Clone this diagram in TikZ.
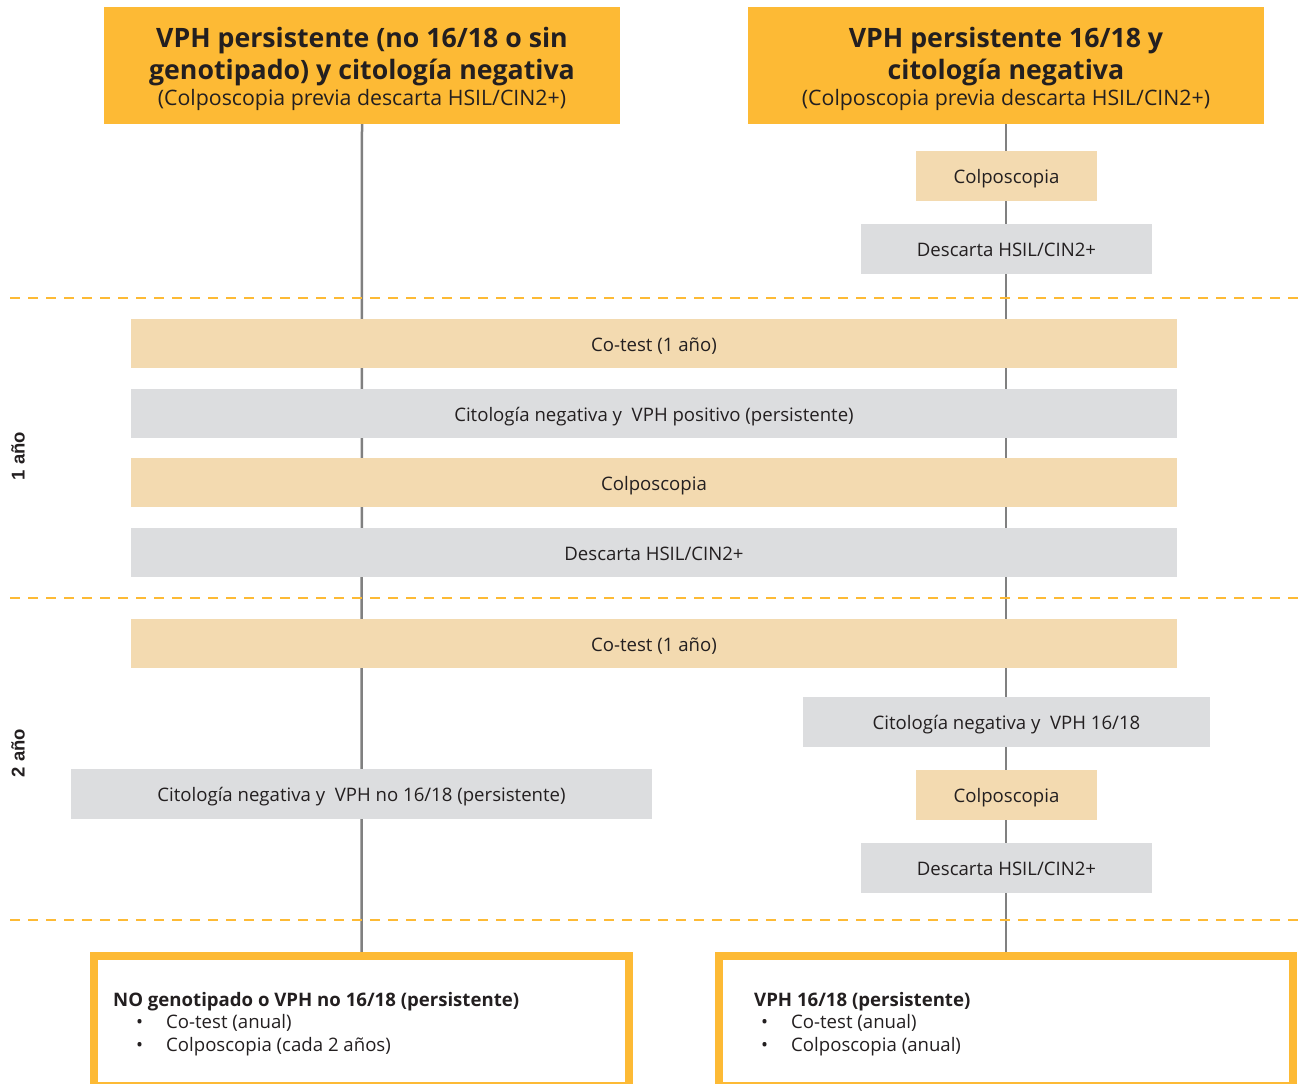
\documentclass[tikz,border=0pt]{standalone}
\usepackage{fontspec}
\setmainfont{Open Sans}
\newfontfamily\sidefont{Liberation Sans}
\usetikzlibrary{backgrounds}
\definecolor{headorange}{HTML}{FDBA35}
\definecolor{stepfill}{HTML}{F3DAB0}
\definecolor{checkfill}{HTML}{DCDDDF}
\definecolor{linegray}{HTML}{808080}
\definecolor{ink}{HTML}{231F20}
\tikzset{
  headbox/.style={fill=headorange, inner sep=0pt, minimum width=516pt, minimum height=117pt},
  headtitle/.style={text=ink, align=center, font=\fontsize{26.7}{32}\selectfont\bfseries},
  headsub/.style={text=ink, font=\fontsize{21.3}{24}\selectfont},
  bodybox/.style={inner sep=0pt, minimum height=49pt, text=ink, text height=20pt, text depth=4.5pt,
                  font=\fontsize{18.6}{22}\selectfont},
  tanbox/.style={bodybox, fill=stepfill},
  graybox/.style={bodybox, fill=checkfill},
  yearline/.style={draw=headorange, line width=2.5pt, dash pattern=on 10pt off 8pt},
  flow/.style={draw=linegray, line width=2.5pt},
  resultbox/.style={draw=headorange, line width=8pt, fill=white, inner sep=0pt},
  resulttext/.style={text=ink, anchor=west, inner sep=0pt, font=\fontsize{18.6}{22}\selectfont},
  sidelabel/.style={text=ink, rotate=90, font=\sidefont\bfseries\fontsize{18.5}{22}\selectfont}
}
\begin{document}
\begin{tikzpicture}[x=1pt,y=-1pt]
\useasboundingbox (0,0) rectangle (1301,1084);
\clip (0,0) rectangle (1301,1084);

% column headers
\node[headbox] (ltop) at (362,65.5) {};
\node[headtitle] (ltopt) at (362,57) {VPH persistente (no 16/18 o sin\\genotipado) y citología negativa};
\node[headsub] (ltops) at (362,100) {(Colposcopia previa descarta HSIL/CIN2+)};
\node[headbox] (rtop) at (1006,65.5) {};
\node[headtitle] (rtopt) at (1006,57) {VPH persistente 16/18 y\\citología negativa};
\node[headsub] (rtops) at (1006,100) {(Colposcopia previa descarta HSIL/CIN2+)};

% right column, before the first year
\node[tanbox, minimum width=181pt, minimum height=50pt] (rcol0) at (1006.5,176) {Colposcopia};
\node[graybox, minimum width=291pt, minimum height=50pt] (rdes0) at (1006.5,249) {Descarta HSIL/CIN2+};

% year separators
\coordinate (s1a) at (10,298);  \coordinate (s1b) at (1301,298);
\coordinate (s2a) at (10,598);  \coordinate (s2b) at (1301,598);
\coordinate (s3a) at (10,920);  \coordinate (s3b) at (1301,920);

% first year, shared steps
\node[tanbox, minimum width=1046pt] (cot1) at (654,343.5) {Co-test (1 año)};
\node[graybox, minimum width=1046pt] (cit1) at (654,413.5) {Citología negativa y\ \ VPH positivo (persistente)};
\node[tanbox, minimum width=1046pt] (col1) at (654,482.5) {Colposcopia};
\node[graybox, minimum width=1046pt] (des1) at (654,552.5) {Descarta HSIL/CIN2+};

% second year
\node[tanbox, minimum width=1046pt] (cot2) at (654,643.5) {Co-test (1 año)};
\node[graybox, minimum width=407pt, minimum height=50pt] (rcit2) at (1006.5,722) {Citología negativa y\ \ VPH 16/18};
\node[tanbox, minimum width=181pt, minimum height=50pt] (rcol2) at (1006.5,795) {Colposcopia};
\node[graybox, minimum width=291pt, minimum height=50pt] (rdes2) at (1006.5,868) {Descarta HSIL/CIN2+};
\node[graybox, minimum width=581pt, minimum height=50pt] (lcit2) at (361.5,794) {Citología negativa y\ \ VPH no 16/18 (persistente)};

% outcomes
\node[resultbox, minimum width=535pt, minimum height=130pt] (lbot) at (361.5,1021) {};
\node[resultbox, minimum width=574pt, minimum height=130pt] (rbot) at (1006,1021) {};
\node[resulttext] (lbt) at (113,1002) {\bfseries NO genotipado o VPH no 16/18 (persistente)};
\node[resulttext] (lb1) at (136,1023) {\makebox[30pt][l]{•}Co-test (anual)};
\node[resulttext] (lb2) at (136,1046.5) {\makebox[30pt][l]{•}Colposcopia (cada 2 años)};
\node[resulttext] (rbt) at (754,1002) {\bfseries VPH 16/18 (persistente)};
\node[resulttext] (rb1) at (761,1023) {\makebox[30pt][l]{•}Co-test (anual)};
\node[resulttext] (rb2) at (761,1046.5) {\makebox[30pt][l]{•}Colposcopia (anual)};

% year labels
\node[sidelabel] (y1) at (18,456) {1 año};
\node[sidelabel] (y2) at (18,753) {2 año};

\begin{scope}[on background layer]
  \draw[flow] (ltop.south) -- (lbot.north);
  \draw[flow] (rtop.south) -- (rbot.north);
  \draw[yearline] (s1a) -- (s1b);
  \draw[yearline] (s2a) -- (s2b);
  \draw[yearline] (s3a) -- (s3b);
\end{scope}
\end{tikzpicture}
\end{document}
